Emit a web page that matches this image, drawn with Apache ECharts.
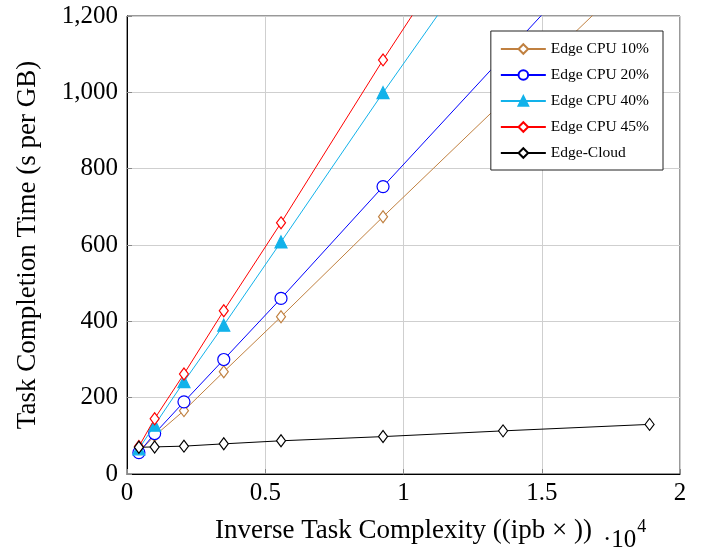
<!DOCTYPE html>
<html>
<head>
<meta charset="utf-8">
<script src="https://cdn.jsdelivr.net/npm/echarts@6/dist/echarts.min.js"></script>
<style>html,body{margin:0;padding:0;background:#fff;}#c{width:704px;height:550px;}</style>
</head>
<body>
<div id="c"></div>
<script>
// x values (units of 10^4)
const xValues = [0.043, 0.1, 0.206, 0.35, 0.557, 0.926, 1.36, 1.89];
// series values (s per GB); points above 1,200 lie outside the plotted range
const cpu10 = [58, 100, 166, 268, 412, 674, 976, 1345];
const cpu20 = [56, 106, 189, 300, 460, 753, 1093, 1508];
const cpu40 = [66, 128, 242, 390, 608, 999, 1445, 2000];
const cpu45 = [72, 145, 262, 428, 658, 1085, 1565, 2150];
const edgeCloud = [70, 71, 73, 79, 87, 98, 113, 130];
const seriesNames = ['Edge CPU 10%', 'Edge CPU 20%', 'Edge CPU 40%', 'Edge CPU 45%', 'Edge-Cloud'];
const xTicks = [0, 0.5, 1, 1.5, 2];
const yTicks = [0, 200, 400, 600, 800, 1000, 1200];

const serif = '"Liberation Serif", "DejaVu Serif", serif';
const pairs = arr => xValues.map((x, i) => [x, arr[i]]);

const styles = [
  {color: '#c08040', symbol: 'diamond', size: [9, 12], fill: '#fff'},
  {color: '#0000ff', symbol: 'circle', size: 12, fill: '#fff'},
  {color: '#12b2ea', symbol: 'triangle', size: 12, fill: '#12b2ea'},
  {color: '#ff0000', symbol: 'diamond', size: [9, 12], fill: '#fff'},
  {color: '#000000', symbol: 'diamond', size: [9, 12], fill: '#fff'}
];
const dataSets = [cpu10, cpu20, cpu40, cpu45, edgeCloud];

const series = dataSets.map((d, i) => ({
  name: seriesNames[i],
  type: 'line',
  data: pairs(d),
  clip: true,
  symbol: styles[i].symbol,
  symbolSize: styles[i].size,
  showAllSymbol: true,
  lineStyle: {color: styles[i].color, width: 1},
  itemStyle: {color: styles[i].fill, borderColor: styles[i].color, borderWidth: 1.2},
  emphasis: {disabled: true},
  z: 2 + i
}));

const chart = echarts.init(document.getElementById('c'), null, {renderer: 'canvas'});
chart.setOption({
  animation: false,
  backgroundColor: '#fff',
  grid: {left: 127, right: 24, top: 16, bottom: 76, show: true, borderColor: '#333', borderWidth: 1, backgroundColor: 'transparent'},
  legend: {
    right: 41, top: 31,
    orient: 'vertical',
    backgroundColor: '#fff',
    borderColor: '#222', borderWidth: 1,
    padding: [10, 14, 9, 9],
    itemWidth: 45, itemHeight: 12, itemGap: 10,
    textStyle: {fontFamily: serif, fontSize: 15.5, color: '#000'},
    data: seriesNames
  },
  xAxis: {
    type: 'value', min: 0, max: 2, interval: 0.5,
    name: 'Inverse Task Complexity ((ipb \u00d7 ))',
    nameLocation: 'middle', nameGap: 43,
    nameTextStyle: {fontFamily: serif, fontSize: 27, color: '#000'},
    axisLine: {show: true, onZero: false, lineStyle: {color: '#000', width: 1}},
    axisTick: {show: true, inside: true, length: 5, lineStyle: {color: '#888'}},
    axisLabel: {fontFamily: serif, fontSize: 25, color: '#000', margin: 7,
      formatter: v => xTicks.includes(v) ? String(v) : ''},
    splitLine: {show: true, lineStyle: {color: '#cfcfcf', width: 1}}
  },
  yAxis: {
    type: 'value', min: 0, max: 1200, interval: 200,
    name: 'Task Completion Time (s per GB)',
    nameLocation: 'middle', nameGap: 86, nameRotate: 90,
    nameTextStyle: {fontFamily: serif, fontSize: 27, color: '#000'},
    axisLine: {show: true, onZero: false, lineStyle: {color: '#000', width: 1}},
    axisTick: {show: true, inside: true, length: 5, lineStyle: {color: '#888'}},
    axisLabel: {fontFamily: serif, fontSize: 25, color: '#000', margin: 9,
      formatter: v => yTicks.includes(v) ? v.toLocaleString('en-US') : ''},
    splitLine: {show: true, lineStyle: {color: '#cfcfcf', width: 1}}
  },
  graphic: [{
    type: 'text', left: 603, top: 518,
    style: {
      text: '{a|\u00b710}{b|4}',
      rich: {
        a: {fontFamily: serif, fontSize: 25, fill: '#000', verticalAlign: 'bottom', padding: [10, 0, 0, 0]},
        b: {fontFamily: serif, fontSize: 18, fill: '#000', verticalAlign: 'top', padding: [0, 0, 12, 1]}
      }
    }
  }],
  series: series
});
</script>
</body>
</html>
